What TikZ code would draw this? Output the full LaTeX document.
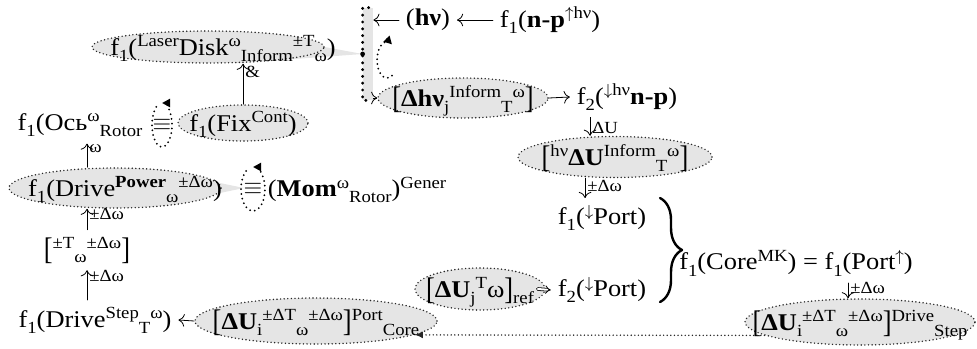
\documentclass[tikz,border=0pt]{standalone}
\usepackage{fontspec}
\setmainfont{Liberation Serif}[FakeStretch=1.1]
\usetikzlibrary{shapes.geometric,arrows.meta,decorations.pathreplacing,backgrounds}

% small raised / lowered indices
\newcommand\Hi[1]{\raisebox{0.8ex}{\fontsize{8.5pt}{9pt}\selectfont #1}}
\newcommand\Lo[1]{\raisebox{-0.55ex}{\fontsize{8.5pt}{9pt}\selectfont #1}}
\newcommand\Lb{\raisebox{-0.2ex}{\scalebox{1}[1.3]{[}}}
\newcommand\Rb{\raisebox{-0.2ex}{\scalebox{1}[1.3]{]}}}
% text that does not widen its ellipse
\newcommand\Z[2][0pt]{\smash{\raisebox{-0.75ex}{\makebox[0pt]{\hspace{#1}#2}}}}

\tikzset{
  blob/.style={ellipse,fill=gray!20,draw=black!85,line width=0.8pt,dash pattern=on 0pt off 1.8pt,inner sep=0pt},
  fine/.style={draw=black!85,line width=0.8pt,dash pattern=on 0pt off 1.8pt},
  lbl/.style={font=\fontsize{8.5pt}{9pt}\selectfont,inner sep=1pt},
  loopy/.style={line width=1pt,dash pattern=on 0pt off 2.4pt,-{Triangle[length=4pt,width=4pt]}},
  bigdots/.style={line width=1.6pt,dash pattern=on 0pt off 3.4pt}
}

\begin{document}
\begin{tikzpicture}[x=0.5pt,y=-0.5pt,line cap=round,line join=round,font=\fontsize{12pt}{14pt}\selectfont,>={To[length=3pt]}]
  \useasboundingbox (0,0) rectangle (977,348);

  % bar on top
  \node[fill=gray!20,minimum width=5pt,minimum height=46pt,inner sep=0pt] (bar) at (368,54) {};
  \draw[bigdots] ([xshift=3pt]bar.north west) -- (bar.north west) -- (bar.south west) -- ([xshift=3pt]bar.south west);

  % nodes
  \node[blob,minimum width=116pt,minimum height=16pt] (laser) at (208,47)
    {\Z[15pt]{f\Lo{1}(\Hi{Laser}Disk\Hi{ω}\Lo{Inform}\Hi{±T}\Lo{ω})}};
  \node[blob,minimum width=65pt,minimum height=18pt] (fix) at (243,123) {\Z{f\Lo{1}(Fix\Hi{Cont})}};
  \node (osj) at (80,125) {f\Lo{1}(Ось\Hi{ω}\Lo{Rotor}};
  \node (eq1) at (162,125) {$\equiv$};
  \node[blob,minimum width=106pt,minimum height=20pt] (drivepow) at (115,188)
    {\Z[10pt]{f\Lo{1}(Drive\Hi{\textbf{Power}}\Lo{ω}\Hi{±Δω})}};
  \node (eq2) at (253,189) {$\equiv$};
  \node (mom) at (357,190) {(\textbf{Mom}\Hi{ω}\Lo{Rotor})\Hi{Gener}};
  \node (brk) at (87,250) {\Lb\Hi{±T}\Lo{ω}\Hi{±Δω}\Rb};
  \node (drvstp) at (95,320) {f\Lo{1}(Drive\Hi{Step}\Lo{T}\Hi{ω})};
  \node[blob,minimum width=121pt,minimum height=23pt] (portcore) at (316,321)
    {\Z{\Lb\textbf{ΔU}\Lo{i}\Hi{±ΔT}\Lo{ω}\Hi{±Δω}\Rb\Hi{Port}\Lo{Core}}};
  \node[blob,minimum width=115pt,minimum height=23pt] (drvstep) at (860,322)
    {\Z{\Lb\textbf{ΔU}\Lo{i}\Hi{±ΔT}\Lo{ω}\Hi{±Δω}\Rb\Hi{Drive}\Lo{Step}}};

  \node (hv) at (428,20) {(\textbf{hν})};
  \node (fnp) at (550,20) {f\Lo{1}(\textbf{n-p}\Hi{$\uparrow$hν})};
  \node[blob,minimum width=85pt,minimum height=20pt] (dhv) at (463,98)
    {\Z{\Lb\textbf{Δhν}\Lo{j}\Hi{Inform}\Lo{T}\Hi{ω}\Rb}};
  \node (f2np) at (627,97) {f\Lo{2}(\Hi{$\downarrow$hν}\textbf{n-p})};
  \node[blob,minimum width=97pt,minimum height=20.5pt] (hvdu) at (615,157)
    {\Z{\Lb\Hi{hν}\textbf{ΔU}\Hi{Inform}\Lo{T}\Hi{ω}\Rb}};
  \node (f1port) at (602,218) {f\Lo{1}(\Hi{$\downarrow$}Port)};
  \node (f2port) at (602,290) {f\Lo{2}(\Hi{$\downarrow$}Port)};
  \node[blob,minimum width=65pt,minimum height=21pt] (ref) at (480,289)
    {\Z{\Lb\textbf{ΔU}\Lo{j}\Hi{T}ω\Rb\Lo{ref}}};
  \node (core) at (796,263) {f\Lo{1}(Core\Hi{MK}) = f\Lo{1}(Port\Hi{$\uparrow$})};

  % tails of the long ellipses
  \coordinate (tip1) at (bar.west);
  \coordinate (tip2) at (244,188);
  \begin{scope}[on background layer]
    \fill[gray!20] (laser.30) -- (tip1) -- (laser.-30) -- cycle;
    \draw[fine] (laser.26) -- (tip1) -- (laser.-26);
    \fill[gray!20] (drivepow.30) -- (tip2) -- (drivepow.-30) -- cycle;
    \draw[fine] (drivepow.26) -- (tip2) -- (drivepow.-26);
  \end{scope}
  \fill (tip1) circle (1.2pt);

  % loops
  \draw[loopy] (eq1) ++(235:10 and 22) arc[start angle=235,end angle=-90,x radius=10,y radius=22];
  \draw[loopy] (eq2) ++(235:12 and 22) arc[start angle=235,end angle=-90,x radius=12,y radius=22];
  \draw[loopy] (387,60) ++(60:10 and 18) arc[start angle=60,end angle=300,x radius=10,y radius=18];

  % left column
  \coordinate (lx) at (87,0);
  \draw[->] (fix.north) -- (fix.north |- laser.south) node[lbl,right,pos=0.8] {\&};
  \draw[->] (drivepow.north -| lx) -- (osj.south -| lx) node[lbl,right,pos=0.8] {ω};
  \draw[->] (brk.north -| lx) -- (drivepow.south -| lx) node[lbl,right,pos=0.75] {±Δω};
  \draw[->] (drvstp.north -| lx) -- (brk.south -| lx) node[lbl,right,pos=0.8] {±Δω};
  \draw[->] (portcore.west) -- (drvstp.east);
  \draw[fine,-{Latex[length=4pt,width=3.5pt]}] (drvstep.188) -- (portcore.-8);

  % right column
  \coordinate (ax) at (590,0);
  \coordinate (ax2) at (585,0);
  \coordinate (rx) at (848,0);
  \draw[->] (hv.west) -- (hv.west -| bar.east);
  \draw[->] (fnp.west) -- (hv.east);
  \draw[->] (dhv.west -| bar.east) -- (dhv.west);
  \draw[->] (dhv.east) -- (f2np.west);
  \draw[->] (f2np.south -| ax) -- (hvdu.north -| ax) node[lbl,right,pos=0.6] {ΔU};
  \draw[->] (hvdu.south -| ax2) -- (f1port.north -| ax2) node[lbl,right,pos=0.4] {±Δω};
  \draw[->] (core.south -| rx) -- (drvstep.north -| rx) node[lbl,right,pos=0.35] {±Δω};
  \draw[double,double distance=1pt,-{Implies}] ([xshift=-4pt]ref.east) -- (f2port.west);

  % brace
  \coordinate (bt) at (660,198);
  \coordinate (bb) at (660,302);
  \draw[line width=1.2pt,decorate,decoration={brace,amplitude=11pt}] (bt) -- (bb);
\end{tikzpicture}
\end{document}
